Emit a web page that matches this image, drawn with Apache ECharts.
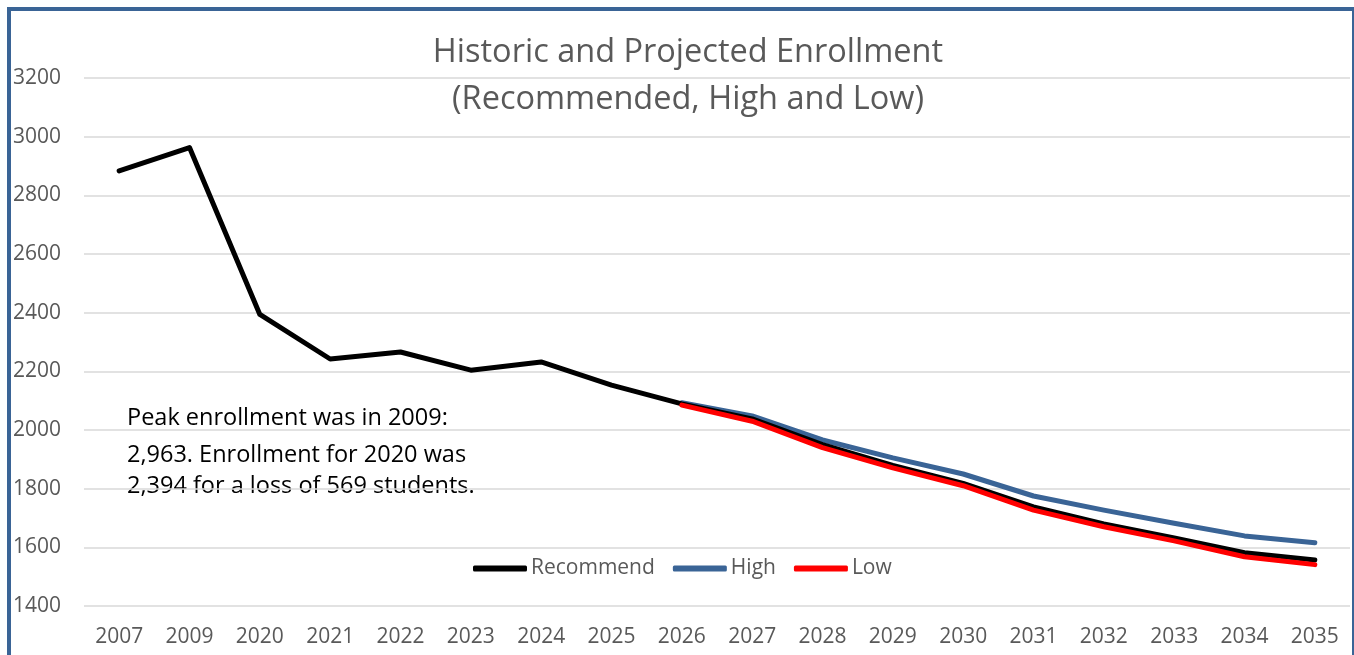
<!DOCTYPE html>
<html>
<head>
<meta charset="utf-8">
<script src="https://cdn.jsdelivr.net/npm/echarts@6/dist/echarts.min.js"></script>
<style>
html,body{margin:0;padding:0;background:#fff;}
#frame{position:absolute;left:7px;top:7px;width:1341px;height:700px;border-top:4px solid #3A6496;border-left:4px solid #3A6496;border-right:2px solid #3A6496;}
#chart{position:absolute;left:0;top:0;width:1354px;height:655px;}
</style>
</head>
<body>
<div id="frame"></div>
<div id="chart"></div>
<script>
const categories = ['2007','2009','2020','2021','2022','2023','2024','2025','2026','2027','2028','2029','2030','2031','2032','2033','2034','2035'];
const recommend = [2883, 2963, 2394, 2242, 2266, 2204, 2232, 2153, 2089, 2038, 1950, 1879, 1818, 1738, 1680, 1632, 1582, 1557];
const high =      [null, null, null, null, null, null, null, null, 2093, 2048, 1966, 1905, 1850, 1775, 1727, 1682, 1639, 1616];
const low =       [null, null, null, null, null, null, null, null, 2085, 2030, 1940, 1871, 1810, 1727, 1670, 1622, 1568, 1541];
const seriesNames = ['Recommend', 'High', 'Low'];
const titleLines = ['Historic and Projected Enrollment', '(Recommended, High and Low)'];
const noteLines = ['Peak enrollment was in 2009:', '2,963. Enrollment for 2020 was', '2,394 for a loss of 569 students.'];

const FONT = 'Open Sans';
const GRAY = '#595959';
const colors = ['#000000', '#3A6496', '#FF0000'];

const chart = echarts.init(document.getElementById('chart'), null, {renderer: 'canvas'});
chart.setOption({
  animation: false,
  color: colors,
  grid: {left: 84, right: 4, top: 78, bottom: 49, containLabel: false},
  xAxis: {
    type: 'category', data: categories, boundaryGap: true,
    axisLine: {show: false}, axisTick: {show: false},
    axisLabel: {color: GRAY, fontFamily: FONT, fontSize: 21, margin: 21}
  },
  yAxis: {
    type: 'value', min: 1400, max: 3200, interval: 200,
    axisLine: {show: false}, axisTick: {show: false},
    axisLabel: {color: GRAY, fontFamily: FONT, fontSize: 21, margin: 23, formatter: v => String(v)},
    splitLine: {lineStyle: {color: '#D9D9D9', width: 1.5}}
  },
  legend: {
    left: 468, top: 553, itemWidth: 54, itemHeight: 6, itemGap: 18,
    icon: 'roundRect',
    textStyle: {color: GRAY, fontFamily: FONT, fontSize: 21, padding: [0, 0, 0, -1]},
    data: seriesNames
  },
  graphic: [
    {type: 'text', x: 688, y: 53, style: {text: titleLines[0], fill: GRAY, font: '32.5px "Open Sans"', textAlign: 'center', textVerticalAlign: 'middle'}},
    {type: 'text', x: 688, y: 100, style: {text: titleLines[1], fill: GRAY, font: '32.5px "Open Sans"', textAlign: 'center', textVerticalAlign: 'middle'}},
    {type: 'text', x: 127, y: 418, style: {text: noteLines[0], fill: '#000', font: '23.5px "Open Sans"', textVerticalAlign: 'middle'}},
    {type: 'text', x: 127, y: 455, style: {text: noteLines[1], fill: '#000', font: '23.5px "Open Sans"', textVerticalAlign: 'middle'}},
    {type: 'text', x: 127, y: 486, style: {text: noteLines[2], fill: '#000', font: '23.5px "Open Sans"', textVerticalAlign: 'middle'}}
  ],
  series: [
    {name: seriesNames[0], type: 'line', data: recommend, showSymbol: false, symbol: 'none',
     lineStyle: {width: 5, color: colors[0], cap: 'round', join: 'round'}, z: 2},
    {name: seriesNames[1], type: 'line', data: high, showSymbol: false, symbol: 'none',
     lineStyle: {width: 5, color: colors[1], cap: 'round', join: 'round'}, z: 1},
    {name: seriesNames[2], type: 'line', data: low, showSymbol: false, symbol: 'none',
     lineStyle: {width: 5, color: colors[2], cap: 'round', join: 'round'}, z: 3}
  ]
});
</script>
</body>
</html>
